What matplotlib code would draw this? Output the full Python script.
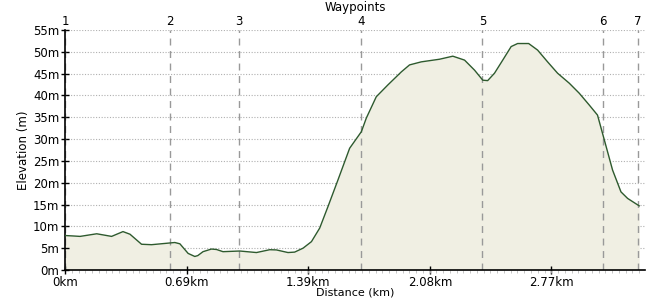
import numpy as np
import matplotlib.pyplot as plt
from matplotlib.ticker import FixedLocator, MultipleLocator

# elevation profile
dist_km = [0.000, 0.046, 0.086, 0.181, 0.266, 0.331, 0.371, 0.437, 0.494, 0.627,
           0.656, 0.703, 0.741, 0.758, 0.788, 0.836, 0.865, 0.902, 0.998, 1.093,
           1.169, 1.207, 1.273, 1.311, 1.359, 1.407, 1.454, 1.501, 1.558, 1.625,
           1.692, 1.720, 1.777, 1.843, 1.920, 1.967, 2.034, 2.138, 2.214, 2.281,
           2.338, 2.385, 2.413, 2.452, 2.499, 2.547, 2.584, 2.647, 2.698, 2.755,
           2.812, 2.879, 2.936, 2.993, 3.040, 3.079, 3.126, 3.174, 3.212, 3.278]
elev_m = [7.9, 7.8, 7.7, 8.3, 7.7, 8.8, 8.2, 5.9, 5.8, 6.3,
          6.0, 3.8, 3.1, 3.3, 4.2, 4.8, 4.7, 4.2, 4.35, 4.0,
          4.65, 4.6, 4.0, 4.1, 5.0, 6.5, 9.6, 14.5, 20.6, 27.9,
          31.7, 34.8, 39.7, 42.4, 45.4, 47.0, 47.7, 48.3, 49.0, 48.1,
          45.8, 43.5, 43.4, 45.1, 48.1, 51.2, 51.9, 51.9, 50.4, 47.7,
          45.1, 42.8, 40.5, 37.8, 35.5, 29.8, 22.9, 17.9, 16.4, 14.7]

waypoint_km = [0.0, 0.599, 0.992, 1.688, 2.383, 3.073, 3.272]
waypoint_names = ['1', '2', '3', '4', '5', '6', '7']

xtick_pos = [0.0, 0.694, 1.389, 2.083, 2.777]
xtick_labels = ['0km', '0.69km', '1.39km', '2.08km', '2.77km']
ytick_vals = list(range(0, 60, 5))

plt.rcParams['font.family'] = 'DejaVu Sans'
fig = plt.figure(figsize=(6.5, 3.0), dpi=100)
ax = fig.add_axes([0.1, 0.1, 0.892, 0.8])

ax.fill_between(dist_km, elev_m, 0, color='#f0efe3', lw=0, zorder=1)
ax.plot(dist_km, elev_m, color='#2e5a2e', lw=1.0, zorder=3)

for y in ytick_vals[1:]:
    ax.axhline(y, color='#b0b0b0', lw=0.8, ls=(0, (1, 1.5)), zorder=0)

for x, name in zip(waypoint_km, waypoint_names):
    ax.axvline(x, color='#999999', lw=1.0, ls=(0, (5, 4)), zorder=2)
    ax.text(x, 56.9, name, ha='center', va='center', fontsize=8.5, clip_on=False)
ax.text(0.5 * 3.31, 60.1, 'Waypoints', ha='center', va='center', fontsize=8.5,
        clip_on=False)

ax.set_xlim(0, 3.31)
ax.set_ylim(0, 55)
ax.xaxis.set_major_locator(FixedLocator(xtick_pos))
ax.set_xticklabels(xtick_labels)
ax.xaxis.set_minor_locator(MultipleLocator(0.694 / 18))
ax.set_yticks(ytick_vals)
ax.set_yticklabels(['%dm' % v for v in ytick_vals])

ax.tick_params(axis='both', which='major', direction='inout', length=6, width=1,
               labelsize=8.5)
ax.tick_params(axis='x', which='major', pad=1)
ax.tick_params(axis='x', which='minor', direction='out', length=2, color='#bbbbbb')
ax.tick_params(axis='y', which='major', pad=1)

for s in ['top', 'right']:
    ax.spines[s].set_visible(False)
ax.spines['left'].set_linewidth(1.2)
ax.spines['bottom'].set_linewidth(1.2)

ax.set_xlabel('Distance (km)', fontsize=8, labelpad=-1)
ax.set_ylabel('Elevation (m)', fontsize=8.5, labelpad=2)

fig.savefig('out.png', dpi=100)
